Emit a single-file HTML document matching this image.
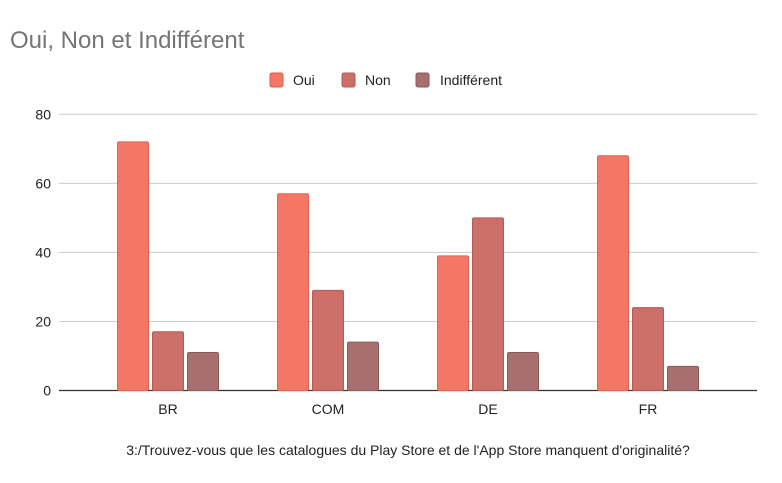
<!DOCTYPE html>
<html><head><meta charset="utf-8"><style>
body{margin:0;background:#fff;}
svg{display:block;font-family:"Liberation Sans",Arial,sans-serif;}
</style></head><body>
<svg width="782" height="483" id="chart">
<text x="10" y="48" font-size="24" fill="#757575">Oui, Non et Indifférent</text>
<g>
<rect x="270" y="73" width="13" height="14" rx="2" fill="#f47766" stroke="#d9604f"/>
<text x="293" y="85" font-size="14" fill="#222">Oui</text>
<rect x="342" y="73" width="13" height="14" rx="2" fill="#cc6f68" stroke="#b35a54"/>
<text x="365" y="85" font-size="14" fill="#222">Non</text>
<rect x="416" y="73" width="13" height="14" rx="2" fill="#a86f6f" stroke="#8e5a5a"/>
<text x="440" y="85" font-size="14" fill="#222">Indifférent</text>
</g>
<g id="grid"></g>
<g id="bars"></g>
<g id="xlabels"></g>
<text x="408" y="455" font-size="14" fill="#222" text-anchor="middle">3:/Trouvez-vous que les catalogues du Play Store et de l'App Store manquent d'originalité?</text>
</svg>
<script>
const categories=["BR","COM","DE","FR"];
const oui=[72,57,39,68];
const non=[17,29,50,24];
const indifferent=[11,14,11,7];
const yTicks=[0,20,40,60,80];
const NS="http://www.w3.org/2000/svg";
const y0=390.5,y80=114.3;
function yScale(v){return y0-(y0-y80)*v/80;}
const bandStart=88,bandW=160;
function xCenter(i){return bandStart+bandW*(i+0.5);}
const grid=document.getElementById('grid');
yTicks.forEach(t=>{
  const l=document.createElementNS(NS,'line');
  l.setAttribute('x1',59);l.setAttribute('x2',757);
  l.setAttribute('y1',yScale(t));l.setAttribute('y2',yScale(t));
  l.setAttribute('stroke',t===0?'#333':'#ccc');l.setAttribute('stroke-width',t===0?1.3:1);
  
  
  grid.appendChild(l);
  const tx=document.createElementNS(NS,'text');
  tx.setAttribute('x',51);tx.setAttribute('y',yScale(t)+5);
  tx.setAttribute('text-anchor','end');tx.setAttribute('font-size','14');tx.setAttribute('fill','#222');
  tx.textContent=t;
  
  
  grid.appendChild(tx);
});
const series=[[oui,'#f47766','#e0614f','oui'],[non,'#cc6f68','#b45b55','non'],[indifferent,'#a86f6f','#8f5a5a','indifferent']];
const bars=document.getElementById('bars');
const bw=31,gap=4;
categories.forEach((c,i)=>{
  const cx=xCenter(i);
  series.forEach((s,j)=>{
    const x=cx-(3*bw+2*gap)/2+j*(bw+gap);
    const r=document.createElementNS(NS,'rect');
    const yt=yScale(s[0][i]);
    r.setAttribute('x',x);r.setAttribute('y',yt);r.setAttribute('width',bw);r.setAttribute('height',y0-yt);
    r.setAttribute('rx',1.5);r.setAttribute('fill',s[1]);r.setAttribute('stroke',s[2]);
    
    
    bars.appendChild(r);
  });
  const t=document.createElementNS(NS,'text');
  t.setAttribute('x',cx);t.setAttribute('y',414);t.setAttribute('text-anchor','middle');
  t.setAttribute('font-size','14');t.setAttribute('fill','#222');t.textContent=c;
  
  
  document.getElementById('xlabels').appendChild(t);
});
</script>
</body></html>
